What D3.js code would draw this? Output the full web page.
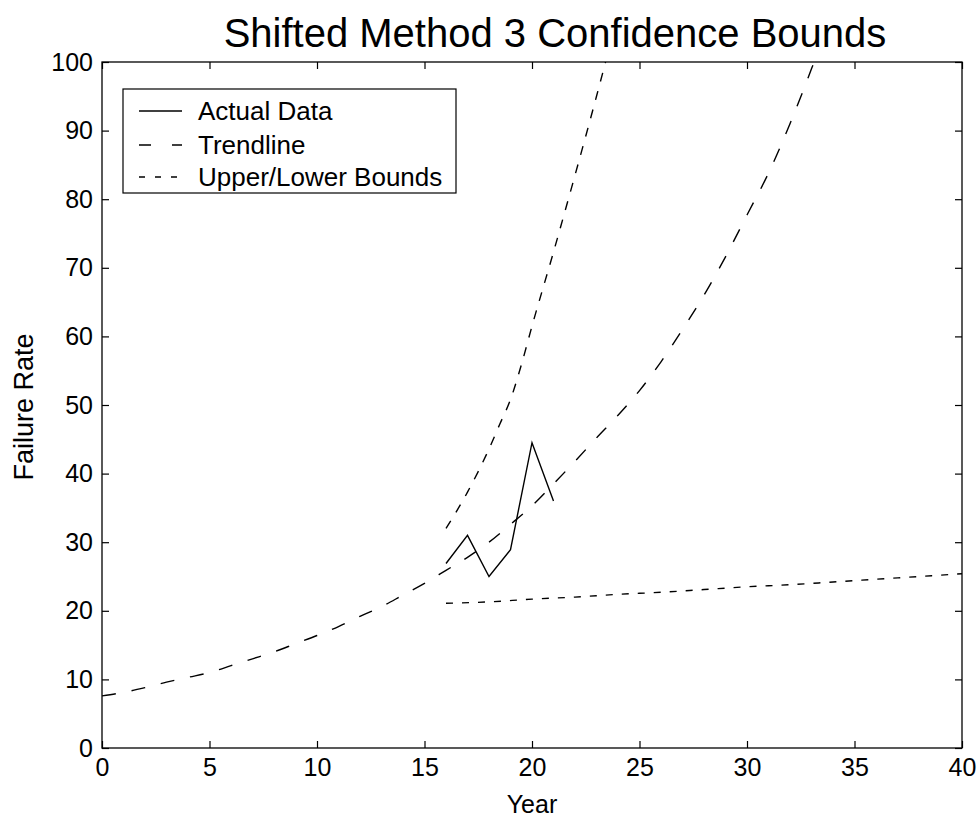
<!DOCTYPE html>
<html>
<head>
<meta charset="utf-8">
<script src="https://cdn.jsdelivr.net/npm/d3@7"></script>
<style>
  html, body { margin: 0; padding: 0; background: #fff; }
  text { font-family: "Liberation Sans", Arial, Helvetica, sans-serif; fill: #000; }
</style>
</head>
<body>
<svg id="chart" width="980" height="824"></svg>
<script>
// ---- data ----
const trendYears  = [0,1,2,3,4,5,6,7,8,9,10,11,12,13,14,15,16,17,18,19,20,21,22,23,24,25,26,27,28,29,30,31,32,33,34];
const trendValues = [7.6,8.1,8.8,9.6,10.3,11.0,12.0,13.0,14.0,15.2,16.4,17.7,19.2,20.6,22.3,24.0,25.9,27.8,30.0,32.6,35.3,38.5,41.8,45.2,48.5,52.1,56.3,61.0,66.0,71.6,77.7,83.8,91.0,99.0,107.5];

const actualYears  = [16,17,18,19,20,21];
const actualValues = [26.9,31.0,25.0,28.9,44.5,36.0];

const upperYears  = [16,17,18,18.5,19,19.5,20,21,22,23,24];
const upperValues = [32.0,37.3,43.6,47.2,50.8,55.8,61.5,72.3,83.5,95.0,107.0];

const lowerYears  = [16,18,20,22,24,26,28,30,32,34,36,38,40];
const lowerValues = [21.1,21.3,21.7,22.0,22.4,22.7,23.1,23.5,23.8,24.2,24.6,25.0,25.4];

const xTicks = [0,5,10,15,20,25,30,35,40];
const yTicks = [0,10,20,30,40,50,60,70,80,90,100];

const titleText = "Shifted Method 3 Confidence Bounds";
const xLabel = "Year";
const yLabel = "Failure Rate";
const legendLabels = ["Actual Data", "Trendline", "Upper/Lower Bounds"];

// ---- layout ----
const svg = d3.select("#chart");
const L = 102, R = 962, T = 62, B = 748;
const x = d3.scaleLinear().domain([0, 40]).range([L, R]);
const y = d3.scaleLinear().domain([0, 100]).range([B, T]);

svg.append("defs").append("clipPath").attr("id", "clip")
  .append("rect").attr("x", L).attr("y", T).attr("width", R - L).attr("height", B - T);

const fontSize = 25;

// axes (ticks inward, MATLAB style)
const gx = svg.append("g").attr("transform", `translate(0,${B})`)
  .call(d3.axisBottom(x).tickValues(xTicks).tickSizeInner(-7).tickSizeOuter(0).tickPadding(10).tickFormat(d3.format("d")));
const gxTop = svg.append("g").attr("transform", `translate(0,${T})`)
  .call(d3.axisTop(x).tickValues(xTicks).tickSizeInner(-7).tickSizeOuter(0).tickFormat(""));
const gy = svg.append("g").attr("transform", `translate(${L},0)`)
  .call(d3.axisLeft(y).tickValues(yTicks).tickSizeInner(-7).tickSizeOuter(0).tickPadding(9).tickFormat(d3.format("d")));
const gyR = svg.append("g").attr("transform", `translate(${R},0)`)
  .call(d3.axisRight(y).tickValues(yTicks).tickSizeInner(-7).tickSizeOuter(0).tickFormat(""));

[gx, gxTop, gy, gyR].forEach(g => {
  g.selectAll(".domain").remove();
  g.selectAll("line").attr("stroke", "#000").attr("stroke-width", 1.2);
  g.selectAll("text").attr("font-size", fontSize).attr("font-family", "Liberation Sans, Arial, sans-serif").attr("fill", "#000");
});

// plot box
svg.append("rect").attr("x", L).attr("y", T).attr("width", R - L).attr("height", B - T)
  .attr("fill", "none").attr("stroke", "#000").attr("stroke-width", 1.3);

const smooth = d3.line().curve(d3.curveMonotoneX).x(d => x(d[0])).y(d => y(d[1]));
const straight = d3.line().x(d => x(d[0])).y(d => y(d[1]));
const plot = svg.append("g").attr("clip-path", "url(#clip)");

function drawSeries(xs, vs, dash, gen) {
  plot.append("path")
    .datum(xs.map((v, i) => [v, vs[i]]))
    .attr("d", gen)
    .attr("fill", "none")
    .attr("stroke", "#000")
    .attr("stroke-width", 1.4)
    .attr("stroke-dasharray", dash);
}
drawSeries(trendYears, trendValues, "14,16", smooth);
drawSeries(upperYears, upperValues, "9,10", smooth);
drawSeries(lowerYears, lowerValues, "7,9", smooth);
drawSeries(actualYears, actualValues, null, straight);

// title and axis labels
svg.append("text").attr("x", 555).attr("y", 47).attr("text-anchor", "middle")
  .attr("font-size", 40).text(titleText);
svg.append("text").attr("x", 532).attr("y", 813).attr("text-anchor", "middle")
  .attr("font-size", fontSize).text(xLabel);
svg.append("text").attr("transform", "translate(33,407) rotate(-90)").attr("text-anchor", "middle")
  .attr("font-size", 27).text(yLabel);

// legend
const lg = svg.append("g");
lg.append("rect").attr("x", 123).attr("y", 89).attr("width", 333).attr("height", 104)
  .attr("fill", "#fff").attr("stroke", "#000").attr("stroke-width", 1.2);
const legendDash = [null, "12,21", "6,10"];
const rowY = [111, 145, 177];
legendLabels.forEach((lab, i) => {
  lg.append("line").attr("x1", 139).attr("x2", 182).attr("y1", rowY[i]).attr("y2", rowY[i])
    .attr("stroke", "#000").attr("stroke-width", 1.4).attr("stroke-dasharray", legendDash[i]);
  lg.append("text").attr("x", 198).attr("y", rowY[i] + 9).attr("font-size", 26).text(lab);
});
</script>
</body>
</html>
